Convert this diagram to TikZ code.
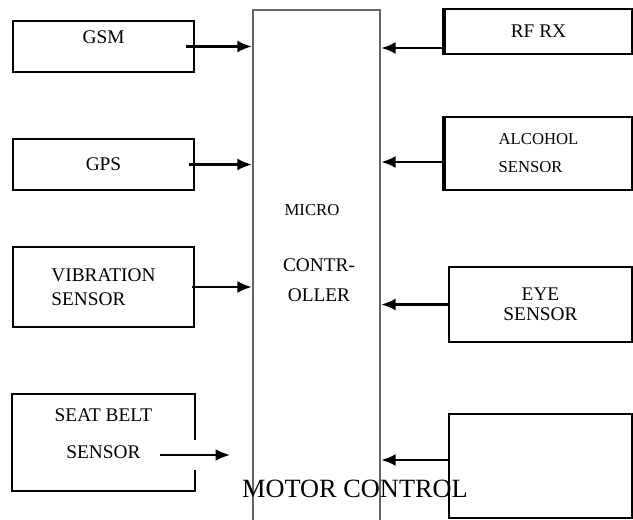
\documentclass[tikz,border=0pt]{standalone}
\usepackage{fontspec}
\setmainfont{Liberation Serif}
\usetikzlibrary{arrows.meta,positioning}

\begin{document}
\begin{tikzpicture}[x=0.02cm, y=-0.02cm,
    block/.style={rectangle, draw, line width=1pt, align=center, inner sep=0pt, font=\fontsize{11}{13}\selectfont},
    mcubox/.style={rectangle, draw=black!60, line width=1.4pt, minimum width=2.54cm, minimum height=10.4cm},
    narrowtext/.style={font=\fontsize{9.5}{11}\selectfont},
    arrow/.style={-{Latex[length=2.9mm,width=2.4mm]}, line width=1.2pt}
]
\useasboundingbox (0,0) rectangle (633,520);

% Micro controller
\node[mcubox] (mcu) at (316.5,270) {};
\node[narrowtext] (microlbl) at (312,210) {MICRO};
\node[font=\fontsize{11}{13}\selectfont, align=center] (ctrllbl) at (319,280) {CONTR-\\[4pt]OLLER};

% Inputs on the left
\node[block, minimum width=3.62cm, minimum height=1.02cm, text depth=0.38cm] (gsm) at (103.5,46.5) {GSM};
\node[block, minimum width=3.62cm, minimum height=1.02cm] (gps) at (103.5,164.5) {GPS};
\node[block, minimum width=3.62cm, minimum height=1.6cm, align=left] (vib) at (103.5,287) {VIBRATION\\[1pt]SENSOR};
\node[block, draw=none, minimum width=3.62cm, minimum height=1.9cm, text depth=0.34cm] (belt) at (103.5,442.5) {SEAT BELT\\[8pt]SENSOR};
\draw[line width=1pt] ([yshift=0.05cm]belt.east) -- (belt.north east) -- (belt.north west)
    -- (belt.south west) -- (belt.south east) -- ([yshift=-0.55cm]belt.east);

% Inputs on the right
\node[block, minimum width=3.74cm, minimum height=0.9cm] (rfrx) at (538.5,31.5) {RF RX};
\node[block, narrowtext, minimum width=3.74cm, minimum height=1.46cm, align=left] (alc) at (538.5,153.5) {ALCOHOL\\[5pt]SENSOR};
\node[block, minimum width=3.66cm, minimum height=1.5cm] (eye) at (540.5,304.5) {EYE\\[-1.7pt]SENSOR};
\node[block, minimum width=3.66cm, minimum height=2.08cm] (motorbox) at (540.5,466) {};
\draw[line width=2pt] (rfrx.north west) -- (rfrx.south west);
\draw[line width=2pt] (alc.north west) -- (alc.south west);

\node[font=\fontsize{15}{18}\selectfont] (motorlbl) at (355,489) {MOTOR CONTROL};

% Arrows into the controller
\draw[arrow] ([xshift=-0.18cm]gsm.east) -- (gsm.east -| mcu.west);
\draw[arrow] ([xshift=-0.12cm]gps.east) -- (gps.east -| mcu.west);
\draw[arrow] ([xshift=-0.06cm]vib.east) -- (vib.east -| mcu.west);
\coordinate (beltstart) at (160,455);
\coordinate (beltend) at (230,455);
\draw[arrow] (beltstart) -- (beltend);

\coordinate (rfin) at ([yshift=-0.33cm]rfrx.west);
\coordinate (alcin) at ([yshift=-0.17cm]alc.west);
\coordinate (motorin) at ([yshift=0.12cm]motorbox.west);
\draw[arrow] (rfin) -- (rfin -| mcu.east);
\draw[arrow] (alcin) -- (alcin -| mcu.east);
\draw[arrow] (eye.west) -- (eye.west -| mcu.east);
\draw[arrow] (motorin) -- (motorin -| mcu.east);
\end{tikzpicture}
\end{document}
